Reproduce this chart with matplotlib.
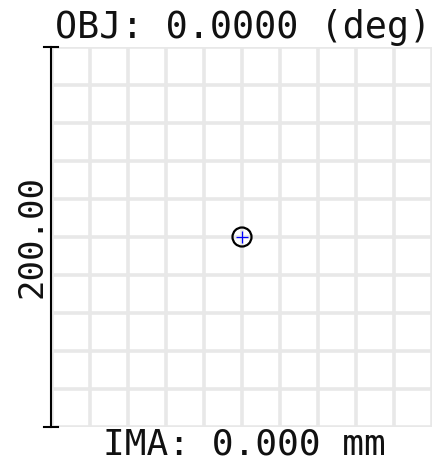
import matplotlib
matplotlib.use('Agg')
import matplotlib.pyplot as plt
import numpy as np
from matplotlib.patches import Circle

# spot diagram data (micrometres)
spot_x = [0.0]
spot_y = [0.0]
airy_radius = 5.0
box_size = 200.0
field_label = 'OBJ: 0.0000 (deg)'
image_label = 'IMA: 0.000 mm'
scale_label = '200.00'

fig = plt.figure(figsize=(4.37, 4.64), dpi=100)
ax = fig.add_axes([52 / 437, 36 / 464, 380 / 437, 380 / 464])

half = box_size / 2
ax.set_xlim(-half, half)
ax.set_ylim(-half, half)
ticks = np.linspace(-half, half, 11)
for t in ticks:
    ax.axvline(t, color='#e8e8e8', lw=2.6, zorder=0)
    ax.axhline(t, color='#e8e8e8', lw=2.6, zorder=0)
ax.set_xticks([])
ax.set_yticks([])
for s in ax.spines.values():
    s.set_visible(False)

ax.add_patch(Circle((0, 0), airy_radius, fill=False, ec='black', lw=1.6, zorder=3))
ax.plot(spot_x, spot_y, '+', color='blue', ms=8.5, mew=0.9, zorder=4)

# scale bar on the left
bx = -half - 0.5
ax.plot([bx, bx], [-half, half], color='black', lw=1.5, clip_on=False)
ax.plot([bx - 3.8, bx + 3.8], [half, half], color='black', lw=1.5, clip_on=False)
ax.plot([bx - 3.8, bx + 3.8], [-half, -half], color='black', lw=1.5, clip_on=False)

fig.text(32 / 437, 1 - 237 / 464, scale_label, rotation=90, ha='center', va='center',
         family='DejaVu Sans Mono', fontsize=24.5, color='#111111')
fig.text(243 / 437, 1 - 38 / 464, field_label, ha='center', va='baseline',
         family='DejaVu Sans Mono', fontsize=26.5, color='#111111')
fig.text(244 / 437, 1 - 455 / 464, image_label, ha='center', va='baseline',
         family='DejaVu Sans Mono', fontsize=26, color='#111111')

fig.savefig('out.png', dpi=100)
